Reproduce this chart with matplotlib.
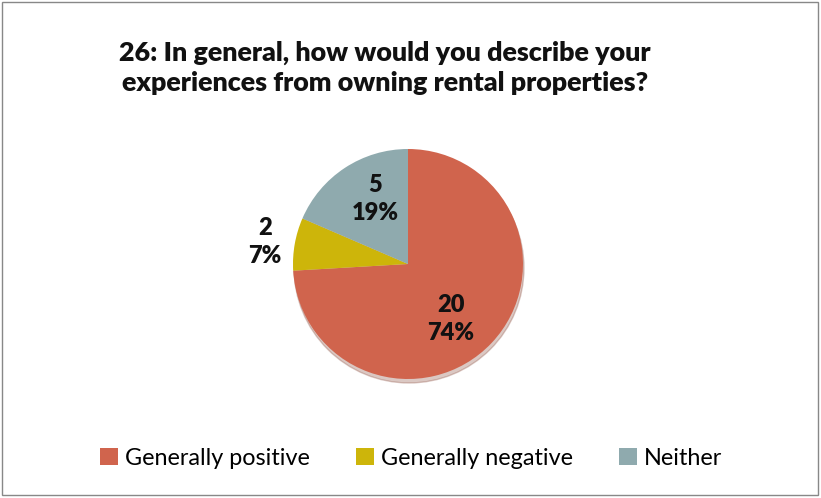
import matplotlib
matplotlib.use('Agg')
import matplotlib.pyplot as plt
from matplotlib.patches import Rectangle, Ellipse

plt.rcParams['font.family'] = ['Lato', 'DejaVu Sans']

title = '26: In general, how would you describe your\nexperiences from owning rental properties?'
categories = ['Generally positive', 'Generally negative', 'Neither']
counts = [20, 2, 5]
colors = ['#D0644D', '#CDB50A', '#8FAAAE']

# label anchors (offset from pie centre, in pixels)
label_offsets = [(43, -55), (-143, 22), (-33, 65)]

W, H = 821, 498
fig = plt.figure(figsize=(W / 100, H / 100), dpi=100)
ax = fig.add_axes([0, 0, 1, 1])

cx, cy, r = 408, 498 - 264, 115

# soft shadow under the pie
ax.add_patch(Ellipse((cx + 1, cy - 4), 2 * r, 2 * r, color='#8a4a3a', alpha=0.3, zorder=0))

wedges, _ = ax.pie(counts, colors=colors, startangle=90, counterclock=False,
                   center=(cx, cy), radius=r, frame=True,
                   wedgeprops=dict(linewidth=0))

total = sum(counts)
for n, (dx, dy) in zip(counts, label_offsets):
    pct = round(n / total * 100)
    ax.text(cx + dx, cy + dy, f'{n}\n{pct}%', ha='center', va='center',
            fontsize=17, fontweight='heavy', linespacing=1.3, color='#111111')

ax.set_xlim(0, W)
ax.set_ylim(0, H)
ax.set_aspect('auto')
ax.axis('off')

fig.text(385 / W, 1 - 68 / H, title, ha='center', va='center', fontsize=19.4,
         fontweight='heavy', linespacing=1.3, color='#111111')

fig.legend(wedges, categories, loc='center', bbox_to_anchor=(411 / W, 1 - 458 / H),
           ncol=3, frameon=False, fontsize=16.8, handlelength=0.75, handleheight=0.75,
           handletextpad=0.3, columnspacing=2.0)

# outer chart border
fig.patches.append(Rectangle((0.002, 0.006), 0.994, 0.99, transform=fig.transFigure,
                             fill=False, edgecolor='#888888', linewidth=1))

fig.savefig('out.png', dpi=100, facecolor='white')
